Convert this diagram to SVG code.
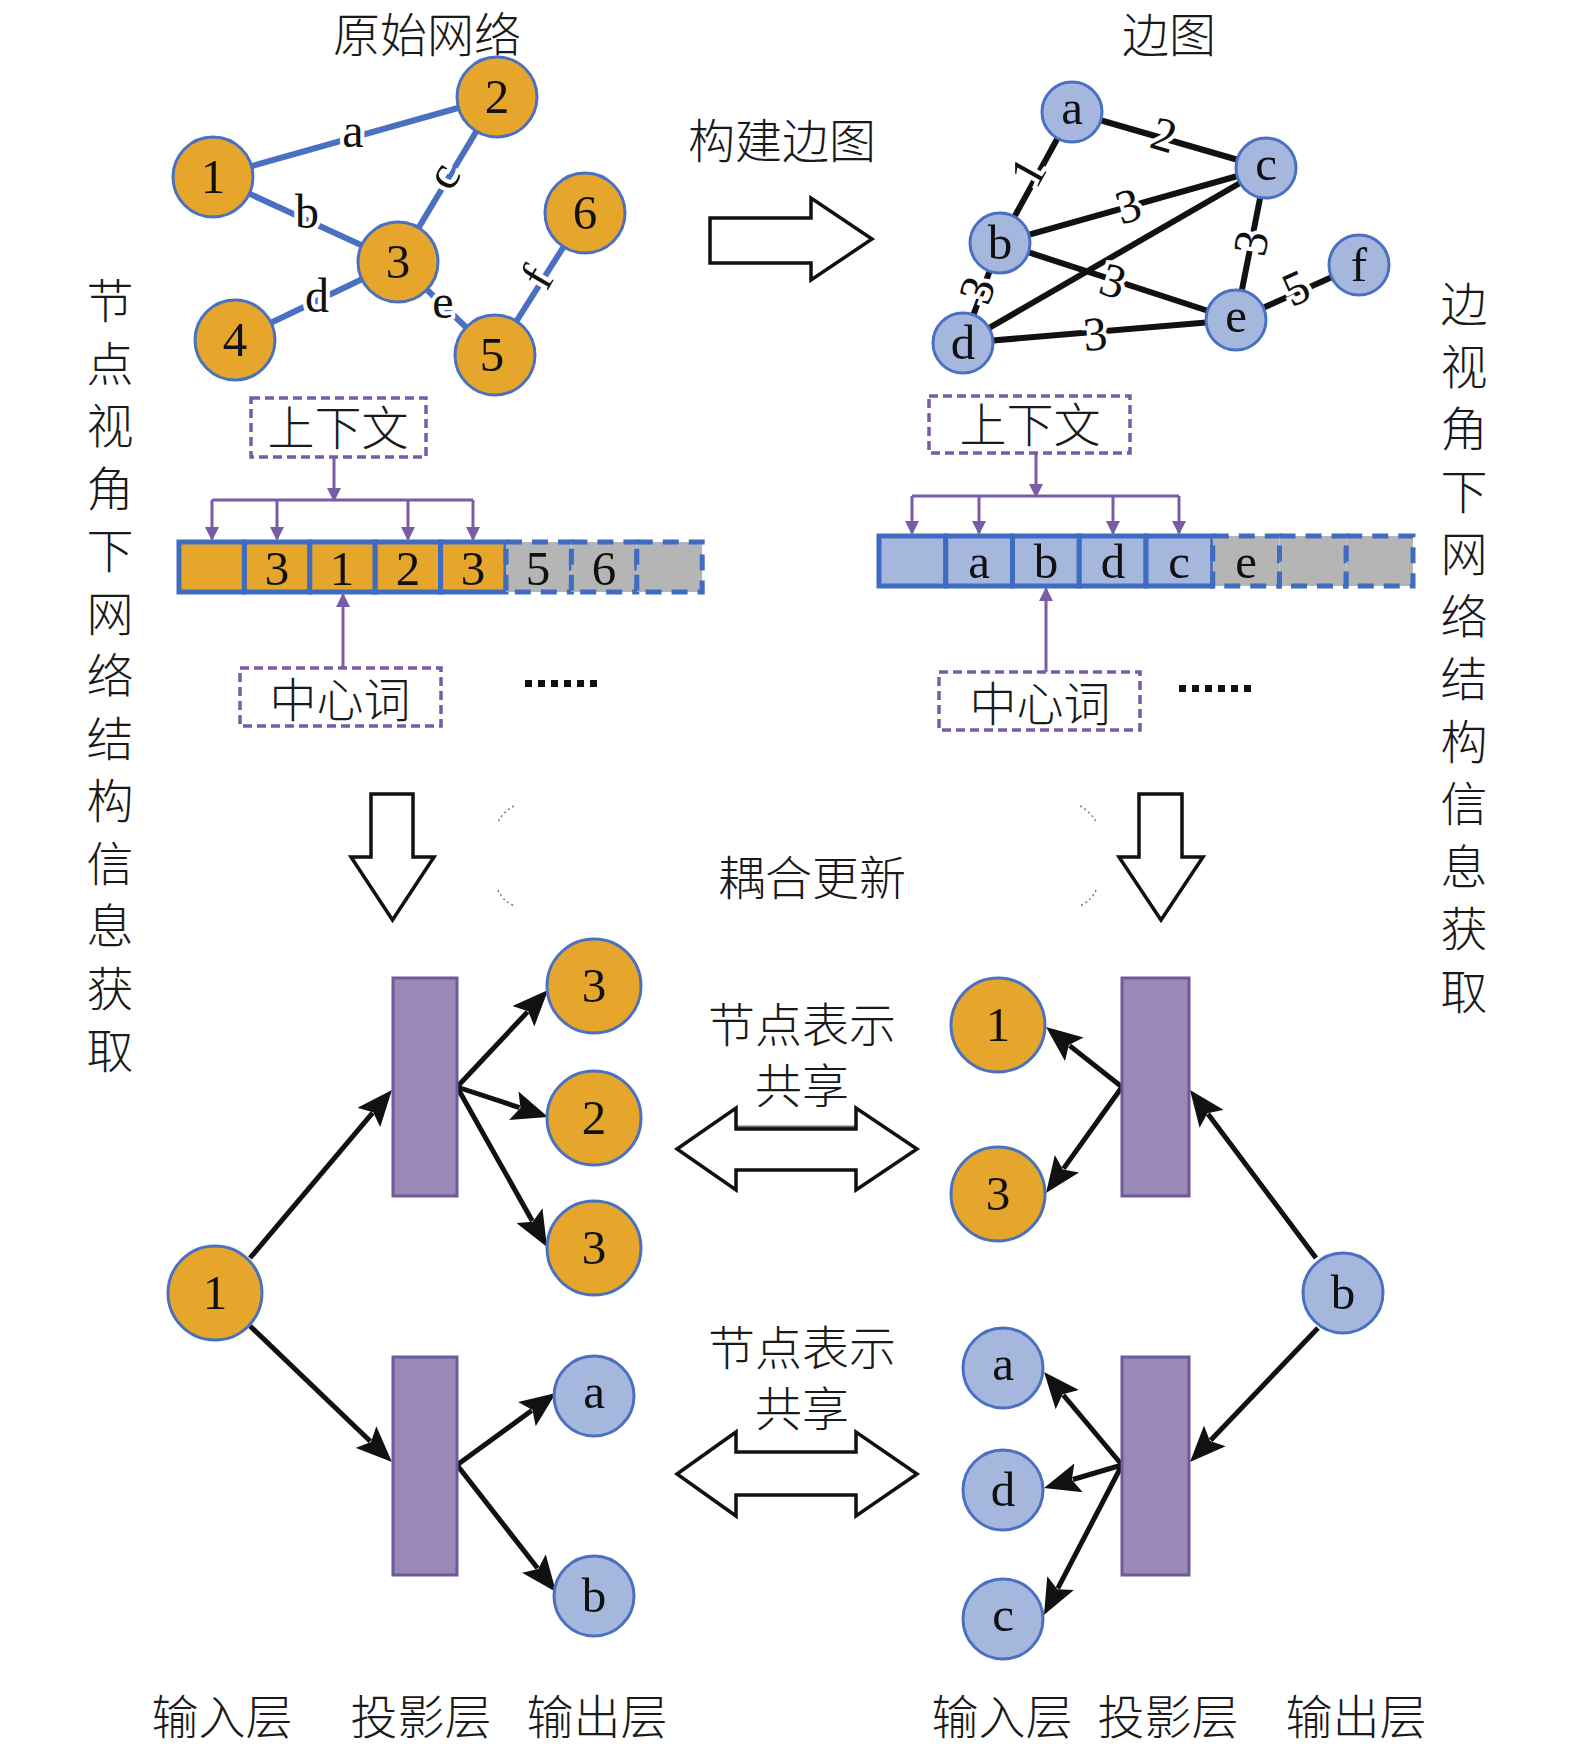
<svg xmlns="http://www.w3.org/2000/svg" width="1575" height="1748" viewBox="0 0 1575 1748">
<defs>
<style>
.cjk{font-family:"Noto Sans CJK SC","Noto Sans CJK TC",sans-serif;font-size:47px;font-weight:300;fill:#1a1a1a;text-anchor:middle}
.on{fill:#E6A52B;stroke:#4A70C2;stroke-width:3}
.bn{fill:#A6B7DE;stroke:#4A70C2;stroke-width:3}
.be{stroke:#4A70C2;stroke-width:6;fill:none}
.ke{stroke:#111;stroke-width:6;fill:none}
.lbl{font-family:"Liberation Serif",serif;font-size:48px;fill:#111;text-anchor:middle;stroke:#fff;stroke-width:8;paint-order:stroke}
.nl{font-family:"Liberation Serif",serif;font-size:49px;fill:#111;text-anchor:middle}
.pr{fill:#9A88B6;stroke:#6D5A9C;stroke-width:3}
.ar{stroke:#111;stroke-width:5;fill:none;marker-end:url(#ah)}
.pl{stroke:#7A5BA6;stroke-width:3;fill:none}
.pa{stroke:#7A5BA6;stroke-width:3;fill:none;marker-end:url(#pah)}
.db{fill:#fff;stroke:#7A5BA6;stroke-width:3.5;stroke-dasharray:9 5}
.oc{fill:#E6A52B;stroke:#3F6CC0;stroke-width:5}
.gc{fill:#B5B5B5;stroke:#3F6CC0;stroke-width:5;stroke-dasharray:16 10}
.bc{fill:#A6B7DE;stroke:#3F6CC0;stroke-width:5}
.big{fill:#fff;stroke:#111;stroke-width:3.5;stroke-linejoin:miter}
.dot{fill:#111}
</style>
<marker id="ah" markerUnits="userSpaceOnUse" markerWidth="36" markerHeight="30" refX="6" refY="15" orient="auto"><path d="M0,0 L36,15 L0,30 L7,15 z" fill="#111"/></marker>
<marker id="pah" markerUnits="userSpaceOnUse" markerWidth="14" markerHeight="14" refX="12" refY="7" orient="auto"><path d="M0,0 L14,7 L0,14 z" fill="#7A5BA6"/></marker>
</defs>
<rect width="1575" height="1748" fill="#fff"/>

<!-- titles -->
<g id="titles">
<text class="cjk" x="427" y="52" font-size="48">原始网络</text>
<text class="cjk" x="1169" y="52" font-size="48">边图</text>
<text class="cjk" x="782" y="158" font-size="48">构建边图</text>
<text class="cjk" x="812" y="895" font-size="48">耦合更新</text>
</g>

<!-- vertical side texts -->
<g id="left-vertical-label">
<text class="cjk" x="110" y="318"><tspan x="110" y="318">节</tspan><tspan x="110" y="380.5">点</tspan><tspan x="110" y="443">视</tspan><tspan x="110" y="505.5">角</tspan><tspan x="110" y="568">下</tspan><tspan x="110" y="630.5">网</tspan><tspan x="110" y="693">络</tspan><tspan x="110" y="755.5">结</tspan><tspan x="110" y="818">构</tspan><tspan x="110" y="880.5">信</tspan><tspan x="110" y="943">息</tspan><tspan x="110" y="1005.5">获</tspan><tspan x="110" y="1068">取</tspan></text>
</g>
<g id="right-vertical-label">
<text class="cjk" x="1464" y="321"><tspan x="1464" y="321">边</tspan><tspan x="1464" y="383.5">视</tspan><tspan x="1464" y="446">角</tspan><tspan x="1464" y="508.5">下</tspan><tspan x="1464" y="571">网</tspan><tspan x="1464" y="633.5">络</tspan><tspan x="1464" y="696">结</tspan><tspan x="1464" y="758.5">构</tspan><tspan x="1464" y="821">信</tspan><tspan x="1464" y="883.5">息</tspan><tspan x="1464" y="946">获</tspan><tspan x="1464" y="1008.5">取</tspan></text>
</g>

<!-- connectors -->
<g id="connectors">
 <!-- original network edges -->
 <line class="be" x1="213" y1="177" x2="497" y2="97"/>
 <line class="be" x1="213" y1="177" x2="398" y2="262"/>
 <line class="be" x1="497" y1="97" x2="398" y2="262"/>
 <line class="be" x1="398" y1="262" x2="235" y2="340"/>
 <line class="be" x1="398" y1="262" x2="495" y2="355"/>
 <line class="be" x1="495" y1="355" x2="585" y2="213"/>
 <text class="lbl" x="353" y="147">a</text>
 <text class="lbl" x="307" y="228">b</text>
 <text class="lbl" x="447" y="189" transform="rotate(-60 447 178)">c</text>
 <text class="lbl" x="317" y="312">d</text>
 <text class="lbl" x="443" y="318">e</text>
 <text class="lbl" x="537" y="293" transform="rotate(-60 537 277)">f</text>

 <!-- edge graph edges -->
 <line class="ke" x1="1072" y1="112" x2="1000" y2="243"/>
 <line class="ke" x1="1072" y1="112" x2="1266" y2="168"/>
 <line class="ke" x1="1000" y1="243" x2="1266" y2="168"/>
 <line class="ke" x1="1000" y1="243" x2="963" y2="343"/>
 <line class="ke" x1="1000" y1="243" x2="1236" y2="320"/>
 <line class="ke" x1="1266" y1="168" x2="963" y2="343"/>
 <line class="ke" x1="1266" y1="168" x2="1236" y2="320"/>
 <line class="ke" x1="963" y1="343" x2="1236" y2="320"/>
 <line class="ke" x1="1236" y1="320" x2="1359" y2="265"/>
 <text class="lbl" x="1164" y="151" transform="rotate(16 1164 135)">2</text>
 <text class="lbl" x="1028" y="188" transform="rotate(-61 1028 172)">1</text>
 <text class="lbl" x="1128" y="222" transform="rotate(-16 1128 206)">3</text>
 <text class="lbl" x="1251" y="259" transform="rotate(-79 1251 243)">3</text>
 <text class="lbl" x="1113" y="297" transform="rotate(18 1113 281)">3</text>
 <text class="lbl" x="977" y="306" transform="rotate(-70 977 290)">3</text>
 <text class="lbl" x="1095" y="350" transform="rotate(-5 1095 334)">3</text>
 <text class="lbl" x="1296" y="304" transform="rotate(-24 1296 288)">5</text>

 <!-- context / center word arrows (left) -->
 <line class="pa" x1="334" y1="457" x2="334" y2="500"/>
 <line class="pl" x1="212" y1="500" x2="473" y2="500"/>
 <line class="pa" x1="212" y1="500" x2="212" y2="539"/>
 <line class="pa" x1="277" y1="500" x2="277" y2="539"/>
 <line class="pa" x1="408" y1="500" x2="408" y2="539"/>
 <line class="pa" x1="473" y1="500" x2="473" y2="539"/>
 <line class="pa" x1="343" y1="668" x2="343" y2="595"/>
 <!-- context / center word arrows (right) -->
 <line class="pa" x1="1036" y1="453" x2="1036" y2="496"/>
 <line class="pl" x1="912" y1="496" x2="1179" y2="496"/>
 <line class="pa" x1="912" y1="496" x2="912" y2="533"/>
 <line class="pa" x1="979" y1="496" x2="979" y2="533"/>
 <line class="pa" x1="1113" y1="496" x2="1113" y2="533"/>
 <line class="pa" x1="1179" y1="496" x2="1179" y2="533"/>
 <line class="pa" x1="1046" y1="672" x2="1046" y2="589"/>

 <!-- bottom left model arrows -->
 <line class="ar" x1="250" y1="1258" x2="372.6" y2="1112.9"/>
 <line class="ar" x1="457" y1="1087" x2="527.5" y2="1011.9"/>
 <line class="ar" x1="457" y1="1087" x2="519.5" y2="1107.6"/>
 <line class="ar" x1="457" y1="1087" x2="532.3" y2="1220.9"/>
 <line class="ar" x1="250" y1="1326" x2="370.3" y2="1441.2"/>
 <line class="ar" x1="457" y1="1465" x2="531.7" y2="1410.6"/>
 <line class="ar" x1="457" y1="1465" x2="537.6" y2="1568.3"/>
 <!-- bottom right model arrows -->
 <line class="ar" x1="1122" y1="1087" x2="1069.6" y2="1045.6"/>
 <line class="ar" x1="1122" y1="1087" x2="1063.5" y2="1168.6"/>
 <line class="ar" x1="1316" y1="1258" x2="1208" y2="1114"/>
 <line class="ar" x1="1318" y1="1328" x2="1210.7" y2="1440.3"/>
 <line class="ar" x1="1122" y1="1465" x2="1063.3" y2="1395"/>
 <line class="ar" x1="1122" y1="1465" x2="1072.8" y2="1479.5"/>
 <line class="ar" x1="1122" y1="1465" x2="1057.8" y2="1588.4"/>
</g>

<!-- block arrows -->
<g id="build-arrow"><polygon class="big" points="710,218 811,218 811,198 872,239 811,280 811,263 710,263"/></g>
<g id="down-arrow-left"><polygon class="big" points="371,794 413,794 413,857 434,857 392.5,920 351,857 371,857"/></g>
<g id="down-arrow-right"><polygon class="big" points="1139,794 1182,794 1182,857 1203,857 1161,920 1119,857 1139,857"/></g>
<g id="share-arrow-top"><polygon class="big" points="677,1149 736,1108 736,1129 856,1129 856,1108 917,1149 856,1190 856,1170 736,1170 736,1190"/><line x1="736" y1="1127" x2="856" y2="1127" stroke="#111" stroke-width="3" opacity="0.6"/></g>
<g id="share-arrow-bottom"><polygon class="big" points="677,1474 736,1432 736,1452 856,1452 856,1432 917,1474 856,1516 856,1495 736,1495 736,1516"/></g>

<!-- faint coupling frame -->
<g id="coupling-frame" fill="none" stroke="#444" stroke-width="1.5" stroke-dasharray="2 3" opacity="0.7">
<path d="M514,806 Q503,812 498,822"/>
<path d="M498,890 Q502,900 514,906"/>
<path d="M1080,806 Q1091,812 1096,822"/>
<path d="M1096,890 Q1092,900 1080,906"/>
</g>

<!-- original network nodes -->
<g id="n1"><circle class="on" cx="213" cy="177" r="40"/><text class="nl" x="213" y="193">1</text></g>
<g id="n2"><circle class="on" cx="497" cy="97" r="40"/><text class="nl" x="497" y="113">2</text></g>
<g id="n3"><circle class="on" cx="398" cy="262" r="40"/><text class="nl" x="398" y="278">3</text></g>
<g id="n4"><circle class="on" cx="235" cy="340" r="40"/><text class="nl" x="235" y="356">4</text></g>
<g id="n5"><circle class="on" cx="495" cy="355" r="40"/><text class="nl" x="492" y="371">5</text></g>
<g id="n6"><circle class="on" cx="585" cy="213" r="40"/><text class="nl" x="585" y="229">6</text></g>

<!-- edge graph nodes -->
<g id="ea"><circle class="bn" cx="1072" cy="112" r="30"/><text class="nl" x="1072" y="124">a</text></g>
<g id="ec"><circle class="bn" cx="1266" cy="168" r="30"/><text class="nl" x="1266" y="180">c</text></g>
<g id="eb"><circle class="bn" cx="1000" cy="243" r="30"/><text class="nl" x="1000" y="259">b</text></g>
<g id="ef"><circle class="bn" cx="1359" cy="265" r="30"/><text class="nl" x="1359" y="281">f</text></g>
<g id="ee"><circle class="bn" cx="1236" cy="320" r="30"/><text class="nl" x="1236" y="332">e</text></g>
<g id="ed"><circle class="bn" cx="963" cy="343" r="30"/><text class="nl" x="963" y="359">d</text></g>

<!-- left sequence -->
<g id="ctx-left"><rect class="db" x="251" y="398" width="175" height="59"/><text class="cjk" x="338" y="445">上下文</text></g>
<g id="seq-left">
<rect class="oc" x="179" y="542" width="65.4" height="50"/>
<rect class="oc" x="244.4" y="542" width="65.4" height="50"/>
<rect class="oc" x="309.8" y="542" width="65.4" height="50"/>
<rect class="oc" x="375.2" y="542" width="65.4" height="50"/>
<rect class="oc" x="440.6" y="542" width="65.4" height="50"/>
<rect class="gc" x="506" y="542" width="65.4" height="50"/>
<rect class="gc" x="571.4" y="542" width="65.4" height="50"/>
<rect class="gc" x="636.8" y="542" width="65.4" height="50"/>
<text class="nl" x="277" y="585">3</text>
<text class="nl" x="342" y="585">1</text>
<text class="nl" x="408" y="585">2</text>
<text class="nl" x="473" y="585">3</text>
<text class="nl" x="538" y="585">5</text>
<text class="nl" x="604" y="585">6</text>
</g>
<g id="center-left"><rect class="db" x="240" y="668" width="201" height="58"/><text class="cjk" x="340" y="717">中心词</text></g>
<g id="dots-left">
<rect class="dot" x="525" y="680" width="7" height="7"/><rect class="dot" x="538" y="680" width="7" height="7"/><rect class="dot" x="551" y="680" width="7" height="7"/><rect class="dot" x="564" y="680" width="7" height="7"/><rect class="dot" x="577" y="680" width="7" height="7"/><rect class="dot" x="590" y="680" width="7" height="7"/>
</g>

<!-- right sequence -->
<g id="ctx-right"><rect class="db" x="929" y="396" width="201" height="57"/><text class="cjk" x="1030" y="442">上下文</text></g>
<g id="seq-right">
<rect class="bc" x="879" y="536" width="66.75" height="50"/>
<rect class="bc" x="945.75" y="536" width="66.75" height="50"/>
<rect class="bc" x="1012.5" y="536" width="66.75" height="50"/>
<rect class="bc" x="1079.25" y="536" width="66.75" height="50"/>
<rect class="bc" x="1146" y="536" width="66.75" height="50"/>
<rect class="gc" x="1212.75" y="536" width="66.75" height="50"/>
<rect class="gc" x="1279.5" y="536" width="66.75" height="50"/>
<rect class="gc" x="1346.25" y="536" width="66.75" height="50"/>
<text class="nl" x="979" y="578">a</text>
<text class="nl" x="1046" y="578">b</text>
<text class="nl" x="1113" y="578">d</text>
<text class="nl" x="1179" y="578">c</text>
<text class="nl" x="1246" y="578">e</text>
</g>
<g id="center-right"><rect class="db" x="939" y="672" width="201" height="58"/><text class="cjk" x="1040" y="721">中心词</text></g>
<g id="dots-right">
<rect class="dot" x="1179" y="685" width="7" height="7"/><rect class="dot" x="1192" y="685" width="7" height="7"/><rect class="dot" x="1205" y="685" width="7" height="7"/><rect class="dot" x="1218" y="685" width="7" height="7"/><rect class="dot" x="1231" y="685" width="7" height="7"/><rect class="dot" x="1244" y="685" width="7" height="7"/>
</g>

<!-- bottom left model -->
<g id="proj-left-top"><rect class="pr" x="393" y="978" width="64" height="218"/></g>
<g id="proj-left-bottom"><rect class="pr" x="393" y="1357" width="64" height="218"/></g>
<g id="in-left-1"><circle class="on" cx="215" cy="1293" r="47"/><text class="nl" x="215" y="1309">1</text></g>
<g id="out-left-3a"><circle class="on" cx="594" cy="986" r="47"/><text class="nl" x="594" y="1002">3</text></g>
<g id="out-left-2"><circle class="on" cx="594" cy="1118" r="47"/><text class="nl" x="594" y="1134">2</text></g>
<g id="out-left-3b"><circle class="on" cx="594" cy="1248" r="47"/><text class="nl" x="594" y="1264">3</text></g>
<g id="out-left-a"><circle class="bn" cx="594" cy="1396" r="40"/><text class="nl" x="594" y="1408">a</text></g>
<g id="out-left-b"><circle class="bn" cx="594" cy="1596" r="40"/><text class="nl" x="594" y="1612">b</text></g>

<!-- bottom right model -->
<g id="proj-right-top"><rect class="pr" x="1122" y="978" width="67" height="218"/></g>
<g id="proj-right-bottom"><rect class="pr" x="1122" y="1357" width="67" height="218"/></g>
<g id="out-right-1"><circle class="on" cx="998" cy="1025" r="47"/><text class="nl" x="998" y="1041">1</text></g>
<g id="out-right-3"><circle class="on" cx="998" cy="1194" r="47"/><text class="nl" x="998" y="1210">3</text></g>
<g id="in-right-b"><circle class="bn" cx="1343" cy="1293" r="40"/><text class="nl" x="1343" y="1309">b</text></g>
<g id="out-right-a"><circle class="bn" cx="1003" cy="1368" r="40"/><text class="nl" x="1003" y="1380">a</text></g>
<g id="out-right-d"><circle class="bn" cx="1003" cy="1490" r="40"/><text class="nl" x="1003" y="1506">d</text></g>
<g id="out-right-c"><circle class="bn" cx="1003" cy="1619" r="40"/><text class="nl" x="1003" y="1631">c</text></g>

<!-- share labels -->
<g id="share-label-top"><text class="cjk" x="802" y="1042">节点表示</text><text class="cjk" x="802" y="1103">共享</text></g>
<g id="share-label-bottom"><text class="cjk" x="802" y="1365">节点表示</text><text class="cjk" x="802" y="1426">共享</text></g>

<!-- layer labels -->
<g id="layer-labels">
<text class="cjk" x="222" y="1734" font-size="49">输入层</text>
<text class="cjk" x="421" y="1734" font-size="49">投影层</text>
<text class="cjk" x="597" y="1734" font-size="49">输出层</text>
<text class="cjk" x="1002" y="1734" font-size="49">输入层</text>
<text class="cjk" x="1168" y="1734" font-size="49">投影层</text>
<text class="cjk" x="1356" y="1734" font-size="49">输出层</text>
</g>
</svg>
